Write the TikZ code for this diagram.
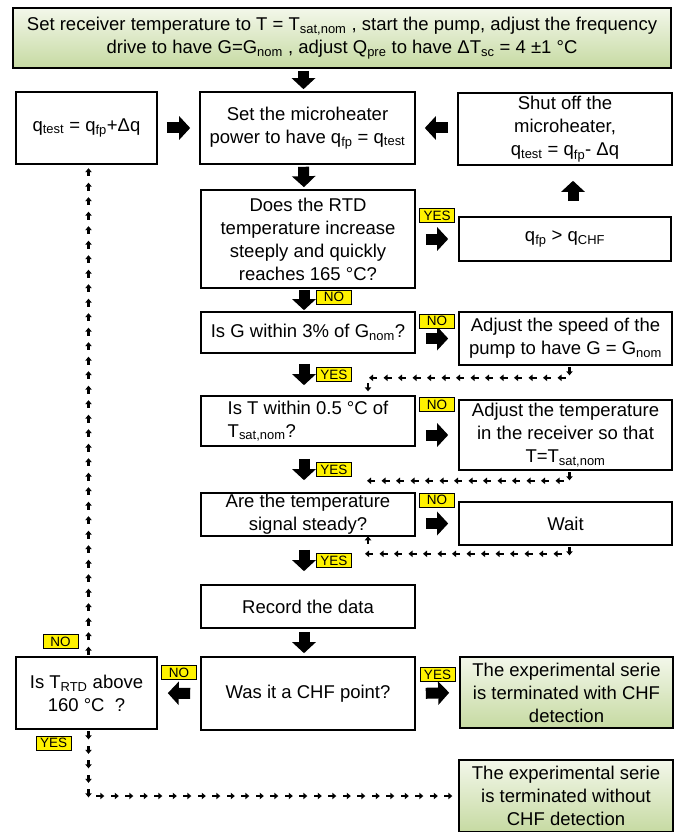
\documentclass[tikz,border=0pt]{standalone}
\usepackage{fontspec}
\setmainfont{Liberation Sans}
\usetikzlibrary{arrows.meta, decorations.markings, positioning}

\newcommand{\sbs}[1]{\textsubscript{#1}}
\definecolor{grntop}{RGB}{243,247,234}
\definecolor{grnbot}{RGB}{198,218,162}

\tikzset{
  procbox/.style 2 args={draw, line width=1.6pt, align=center, inner sep=1pt,
    minimum width=#1, minimum height=#2, font=\fontsize{18.5}{23}\selectfont},
  endbox/.style 2 args={procbox={#1}{#2}, top color=grntop, bottom color=grnbot},
  tag/.style={draw, fill=yellow, line width=0.8pt, inner sep=0pt, minimum width=35pt,
    minimum height=14pt, font=\fontsize{13.5}{13.5}\selectfont},
  bigarrow/.style={line width=11pt, -{Triangle[width=23pt,length=11pt]}, shorten <=#1, shorten >=#1},
  dotarrow/.style={decoration={markings, mark=between positions 6pt and -1pt step 14.5pt with
    {\fill (-4.5pt,-1.1pt) rectangle (0pt,1.1pt); \fill (3.5pt,0pt) -- (-0.5pt,3.3pt) -- (-0.5pt,-3.3pt) -- cycle;}},
    decorate}
}

\begin{document}
\begin{tikzpicture}[x=1pt, y=-1pt]
    \path[use as bounding box, fill=white] (0,0) rectangle (683,832);

    % boxes
    \node[endbox={658pt}{60pt}] (init) at (342,38) {Set receiver temperature to T = T\sbs{sat,nom} , start the pump, adjust the frequency\\drive to have G=G\sbs{nom} , adjust Q\sbs{pre} to have ΔT\sbs{sc} = 4 ±1 °C};
    \node[procbox={141pt}{72pt}] (qtest) at (86.5,128) {q\sbs{test} = q\sbs{fp}+Δq};
    \node[procbox={215pt}{72pt}] (setp) at (307.5,128) {Set the microheater\\power to have q\sbs{fp} = q\sbs{test}};
    \node[procbox={214pt}{72pt}] (shut) at (565,129) {Shut off the\\microheater,\\q\sbs{test} = q\sbs{fp}- Δq};
    \node[procbox={214pt}{98pt}] (rtd) at (308,239) {Does the RTD\\temperature increase\\steeply and quickly\\reaches 165 °C?};
    \node[procbox={212pt}{44pt}] (qfp) at (565,239) {q\sbs{fp} > q\sbs{CHF}};
    \node[procbox={214pt}{41pt}] (isG) at (308,332.5) {Is G within 3\% of G\sbs{nom}?};
    \node[procbox={213pt}{53pt}] (adjspeed) at (565.5,338.5) {Adjust the speed of the\\pump to have G = G\sbs{nom}};
    \node[procbox={214pt}{50pt}, align=left] (isT) at (308,421) {Is T within 0.5 °C of\\T\sbs{sat,nom}?};
    \node[procbox={213pt}{70pt}] (adjtemp) at (565.5,435) {Adjust the temperature\\in the receiver so that\\T=T\sbs{sat,nom}};
    \node[procbox={214pt}{43pt}] (steady) at (308,514.5) {Are the temperature\\signal steady?};
    \node[procbox={213pt}{43pt}] (wait) at (565.5,523.5) {Wait};
    \node[procbox={214pt}{43pt}] (record) at (308,606.5) {Record the data};
    \node[procbox={214pt}{73pt}] (chf) at (308,693.5) {Was it a CHF point?};
    \node[procbox={141pt}{72pt}] (trtd) at (86.5,693) {Is T\sbs{RTD} above\\160 °C\ \ ?};
    \node[endbox={213pt}{71pt}] (withchf) at (566.5,692.5) {The experimental serie\\is terminated with CHF\\detection};
    \node[endbox={214pt}{72pt}] (nochf) at (566,796) {The experimental serie\\is terminated without\\CHF detection};

    % block arrows
    \draw[bigarrow=2pt] ([xshift=-4pt]setp.north |- init.south) -- ([xshift=-4pt]setp.north);
    \draw[bigarrow=9pt] (qtest.east) -- (setp.west);
    \draw[bigarrow=9pt] (shut.west |- setp.east) -- (setp.east);
    \draw[bigarrow=2pt] ([xshift=-4pt]setp.south) -- ([xshift=-4pt]rtd.north);
    \draw[bigarrow=15pt] ([xshift=8pt]qfp.north) -- ([xshift=8pt]shut.south);
    \draw[bigarrow=10pt] (rtd.east |- qfp.west) -- (qfp.west) node[tag, midway, above=16pt] {YES};
    \draw[bigarrow=1pt] ([xshift=-4pt]rtd.south) -- ([xshift=-4pt]isG.north) node[tag, midway, right=12pt, yshift=3pt] {NO};
    \draw[bigarrow=10pt] (isG.east |- adjspeed.west) -- (adjspeed.west) node[tag, midway, above=10pt] {NO};
    \draw[bigarrow=10pt] ([xshift=-4pt]isG.south) -- ([xshift=-4pt]isT.north) node[tag, midway, right=12pt] {YES};
    \draw[bigarrow=10pt] (isT.east |- adjtemp.west) -- (adjtemp.west) node[tag, midway, above=23pt] {NO};
    \draw[bigarrow=12pt] ([xshift=-4pt]isT.south) -- ([xshift=-4pt]steady.north) node[tag, midway, right=12pt] {YES};
    \draw[bigarrow=10pt] (steady.east |- wait.west) -- (wait.west) node[tag, midway, above=16pt] {NO};
    \draw[bigarrow=13pt] ([xshift=-4pt]steady.south) -- ([xshift=-4pt]record.north) node[tag, midway, right=12pt] {YES};
    \draw[bigarrow=3pt] ([xshift=-4pt]record.south) -- ([xshift=-4pt]chf.north);
    \draw[bigarrow=10pt] (chf.west) -- (trtd.east) node[tag, midway, above=13pt] {NO};
    \draw[bigarrow=10pt] (chf.east) -- (withchf.west) node[tag, midway, above=11pt] {YES};

    % dotted loops
    \path[dotarrow] ([xshift=2pt]trtd.north) -- ([xshift=2pt]qtest.south) node[tag, pos=0, above left=7pt and 10pt] {NO};
    \path[dotarrow] ([xshift=2pt]trtd.south) |- (nochf.west) node[tag, pos=0, below left=6pt and 17pt] {YES};
    \path[dotarrow] ([xshift=4pt]adjspeed.south) -- ++(0,12) -| ([xshift=60pt]isT.north);
    \path[dotarrow] ([xshift=4pt]adjtemp.south) -- ++(0,10) -| ([xshift=60pt]steady.north);
    \path[dotarrow] ([xshift=4pt]wait.south) -- ++(0,8) -| ([xshift=60pt]steady.south);
\end{tikzpicture}
\end{document}
